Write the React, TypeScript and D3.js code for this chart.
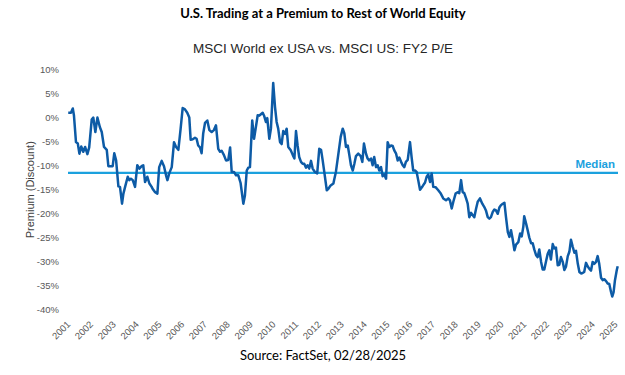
import React, { useEffect, useRef } from "react";
import * as d3 from "d3";

// Dates as decimal years, values in %
const dates: number[] = [
  2001.01, 2001.13, 2001.21, 2001.26, 2001.35, 2001.43, 2001.5, 2001.58, 2001.67, 2001.75, 2001.85, 2001.93,
  2002.04, 2002.11, 2002.2, 2002.29, 2002.4, 2002.48, 2002.58, 2002.7, 2002.77, 2002.87, 2002.96,
  2003.03, 2003.11, 2003.21, 2003.28, 2003.37, 2003.43, 2003.51, 2003.62, 2003.69, 2003.76, 2003.84, 2003.94,
  2004.04, 2004.13, 2004.23, 2004.3, 2004.38, 2004.48, 2004.57, 2004.67, 2004.71, 2004.82, 2004.92,
  2005.0, 2005.11, 2005.21, 2005.3, 2005.36, 2005.44, 2005.55, 2005.65, 2005.74, 2005.84, 2005.94,
  2006.03, 2006.13, 2006.23, 2006.32, 2006.38, 2006.47, 2006.57, 2006.64, 2006.71, 2006.79, 2006.86, 2006.93,
  2007.01, 2007.11, 2007.2, 2007.3, 2007.4, 2007.49, 2007.59, 2007.67, 2007.74, 2007.84, 2007.93,
  2008.03, 2008.11, 2008.18, 2008.28, 2008.37, 2008.47, 2008.57, 2008.69, 2008.76, 2008.84, 2008.91, 2008.98,
  2009.08, 2009.16, 2009.23, 2009.32, 2009.39, 2009.46, 2009.54, 2009.6, 2009.68, 2009.74, 2009.83, 2009.9,
  2010.0, 2010.08, 2010.15, 2010.22, 2010.3, 2010.37, 2010.44, 2010.52, 2010.59, 2010.66, 2010.77, 2010.86, 2010.93,
  2011.0, 2011.07, 2011.14, 2011.22, 2011.29, 2011.36, 2011.44, 2011.51, 2011.58, 2011.66, 2011.73, 2011.83, 2011.93,
  2012.02, 2012.1, 2012.17, 2012.24, 2012.35, 2012.42, 2012.52, 2012.64, 2012.67, 2012.75, 2012.86, 2012.96,
  2013.05, 2013.12, 2013.19, 2013.27, 2013.34, 2013.41, 2013.49, 2013.56, 2013.63, 2013.73, 2013.84, 2013.91, 2013.98,
  2014.07, 2014.14, 2014.21, 2014.29, 2014.36, 2014.43, 2014.51, 2014.58, 2014.65, 2014.73, 2014.8, 2014.87, 2014.95,
  2015.02, 2015.09, 2015.17, 2015.24, 2015.31, 2015.39, 2015.46, 2015.53, 2015.61, 2015.68, 2015.75, 2015.82, 2015.9,
  2016.0, 2016.07, 2016.14, 2016.22, 2016.29, 2016.36, 2016.44, 2016.56, 2016.66, 2016.73, 2016.8, 2016.88, 2016.95,
  2017.02, 2017.13, 2017.24, 2017.35, 2017.46, 2017.58, 2017.68, 2017.75, 2017.83, 2017.9,
  2018.0, 2018.09, 2018.16, 2018.24, 2018.31, 2018.38, 2018.46, 2018.53, 2018.6, 2018.68, 2018.75, 2018.82, 2018.9, 2018.97,
  2019.07, 2019.17, 2019.26, 2019.33, 2019.41, 2019.48, 2019.55, 2019.63, 2019.7, 2019.77, 2019.85, 2019.92, 2019.99,
  2020.07, 2020.14, 2020.21, 2020.29, 2020.36, 2020.43, 2020.5, 2020.58, 2020.65, 2020.75, 2020.83, 2020.9, 2020.97,
  2021.01, 2021.09, 2021.16, 2021.23, 2021.31, 2021.38, 2021.45, 2021.53, 2021.6, 2021.67, 2021.75, 2021.82, 2021.89, 2021.96,
  2022.04, 2022.11, 2022.18, 2022.26, 2022.33, 2022.4, 2022.48, 2022.55, 2022.62, 2022.7, 2022.77, 2022.84, 2022.92, 2022.99,
  2023.06, 2023.14, 2023.21, 2023.28, 2023.36, 2023.43, 2023.5, 2023.57, 2023.64, 2023.72, 2023.79, 2023.86, 2023.94,
  2024.01, 2024.08, 2024.16, 2024.23, 2024.3, 2024.38, 2024.45, 2024.52, 2024.6, 2024.67, 2024.74, 2024.82, 2024.87, 2024.93, 2024.99,
  2025.07, 2025.11,
];

const premium: number[] = [
  1.0, 1.0, 1.9, 0.5, -5.1, -5.4, -7.5, -6.0, -7.1, -6.1, -7.6, -6.2,
  -0.4, 0.0, -3.0, 0.0, -2.0, -3.0, -6.1, -6.7, -10.1, -10.1, -10.1,
  -7.4, -8.9, -14.3, -14.4, -17.9, -15.8, -14.3, -12.3, -13.0, -12.7, -13.0, -14.4,
  -9.9, -10.6, -10.1, -9.9, -13.4, -12.3, -13.7, -14.4, -14.8, -15.5, -15.8,
  -10.3, -9.0, -10.1, -12.0, -13.0, -11.6, -10.3, -5.1, -6.1, -6.7, -2.3,
  2.0, 1.7, 1.0, 0.0, -4.6, -4.5, -4.2, -4.4, -5.8, -6.2, -7.4, -3.3,
  -1.1, -0.6, -2.6, -3.0, -2.6, -1.6, -6.5, -7.1, -6.9, -7.8, -8.9,
  -8.8, -6.2, -11.3, -11.3, -12.0, -12.0, -13.6, -17.9, -16.2, -11.0, -10.4, -10.3,
  -0.6, -4.4, -2.3, 0.5, 0.4, 0.7, 1.0, 0.4, -0.9, -0.1, -4.4, -2.3,
  7.2, 2.2, -0.9, -2.3, -5.1, -5.5, -2.8, -3.4, -2.3, -6.1, -6.8, -7.8, -8.5,
  -2.8, -5.8, -8.2, -9.2, -9.6, -9.6, -10.4, -9.9, -10.6, -9.0, -10.6, -11.3, -11.6,
  -6.5, -6.7, -8.9, -11.3, -15.1, -14.8, -14.1, -13.7, -13.0, -11.3, -7.5, -4.0,
  -2.3, -3.3, -6.1, -5.8, -7.8, -9.9, -11.0, -9.6, -8.0, -7.5, -8.0, -9.2, -5.4,
  -7.5, -8.5, -8.9, -8.5, -9.9, -8.2, -10.3, -9.9, -11.0, -10.3, -12.2, -11.8, -12.7,
  -5.1, -6.1, -5.8, -5.9, -6.8, -7.5, -8.9, -8.3, -9.2, -9.9, -10.3, -9.2, -8.8,
  -5.1, -8.2, -11.0, -11.0, -11.3, -13.0, -15.0, -14.2, -13.5, -12.3, -11.8, -13.4, -11.6,
  -14.4, -14.5, -15.1, -15.8, -16.8, -17.2, -16.8, -17.2, -18.9, -17.5,
  -15.8, -15.5, -15.7, -13.0, -15.5, -15.7, -16.8, -17.9, -20.7, -19.8, -20.3, -20.7, -18.9, -17.5,
  -16.8, -17.9, -18.6, -19.3, -20.7, -21.0, -20.7, -19.6, -19.1, -19.3, -20.0, -18.7, -18.2,
  -17.9, -17.7, -20.7, -23.8, -24.8, -23.4, -25.2, -27.6, -26.4, -25.9, -24.1, -24.7, -22.7,
  -20.5, -22.0, -23.4, -24.9, -26.1, -26.1, -27.4, -28.6, -29.0, -27.4, -30.0, -31.6, -31.6, -30.0,
  -28.3, -27.6, -29.5, -26.3, -27.2, -27.0, -30.7, -30.6, -29.0, -30.0, -31.7, -31.0, -28.8, -27.9,
  -25.4, -26.9, -28.1, -27.7, -30.4, -32.1, -32.4, -32.3, -32.1, -30.2, -30.9, -31.4, -31.8,
  -30.0, -30.4, -30.0, -28.8, -30.4, -33.3, -33.8, -33.6, -34.0, -34.5, -34.6, -36.3, -37.2, -36.3, -33.8,
  -31.7, -30.9,
];

const median = -11.5;
const yTicks: number[] = [10, 5, 0, -5, -10, -15, -20, -25, -30, -35, -40];
const xYears: number[] = d3.range(2001, 2026);

const title = "U.S. Trading at a Premium to Rest of World Equity";
const subtitle = "MSCI World ex USA vs. MSCI US: FY2 P/E";
const yTitle = "Premium (Discount)";
const source = "Source: FactSet, 02/28/2025";

export default function App() {
  const ref = useRef<SVGSVGElement>(null);

  useEffect(() => {
    const svg = d3.select(ref.current);
    svg.selectAll("*").remove();

    const x = d3.scaleLinear().domain([2001, 2025]).range([68, 615.2]);
    const y = d3.scaleLinear().domain([-40, 10]).range([310, 69.5]);

    const tickFont = "'Liberation Sans', Arial, sans-serif";
    const tickColor = "#595959";

    // Titles
    svg.append("text").attr("x", 323).attr("y", 18).attr("text-anchor", "middle")
      .attr("font-family", "Lato, sans-serif").attr("font-weight", 700).attr("font-size", 13)
      .attr("fill", "#000").text(title);
    svg.append("text").attr("x", 323).attr("y", 53).attr("text-anchor", "middle")
      .attr("font-family", tickFont).attr("font-size", 13.5)
      .attr("fill", "#262626").text(subtitle);

    // Y ticks
    svg.append("g").selectAll("text").data(yTicks).join("text")
      .attr("x", 59).attr("y", (d) => y(d)).attr("dy", "0.35em")
      .attr("text-anchor", "end").attr("font-family", tickFont).attr("font-size", 9.5)
      .attr("fill", tickColor).text((d) => `${d}%`);

    // Y title
    svg.append("text")
      .attr("transform", `translate(34, ${(y(10) + y(-40)) / 2}) rotate(-90)`)
      .attr("text-anchor", "middle").attr("font-family", tickFont).attr("font-size", 11)
      .attr("fill", "#404040").text(yTitle);

    // X labels
    svg.append("g").selectAll("text").data(xYears).join("text")
      .attr("transform", (d) => `translate(${x(d) + 3}, 325) rotate(-45)`)
      .attr("text-anchor", "end").attr("font-family", tickFont).attr("font-size", 9.5)
      .attr("fill", tickColor).text((d) => String(d));

    // Median line
    svg.append("line").attr("x1", x(2001)).attr("x2", 618)
      .attr("y1", y(median)).attr("y2", y(median))
      .attr("stroke", "#1ba1de").attr("stroke-width", 2.4);
    svg.append("text").attr("x", 615).attr("y", y(median) - 5).attr("text-anchor", "end")
      .attr("font-family", tickFont).attr("font-weight", 700).attr("font-size", 11.5)
      .attr("fill", "#1ba1de").text("Median");

    // Series
    const pts = dates.map((d, i) => [d, premium[i]] as [number, number]);
    const line = d3.line<[number, number]>().x((d) => x(d[0])).y((d) => y(d[1]));
    svg.append("path").datum(pts).attr("d", line).attr("fill", "none")
      .attr("stroke", "#0d5ba6").attr("stroke-width", 2.5).attr("stroke-linejoin", "round");

    // Source
    svg.append("text").attr("x", 323).attr("y", 360).attr("text-anchor", "middle")
      .attr("font-family", "Lato, sans-serif").attr("font-size", 13)
      .attr("fill", "#000").text(source);
  }, []);

  return (
    <svg ref={ref} width={625} height={375}
      style={{ position: "absolute", left: 0, top: 0, background: "#fff" }} />
  );
}
